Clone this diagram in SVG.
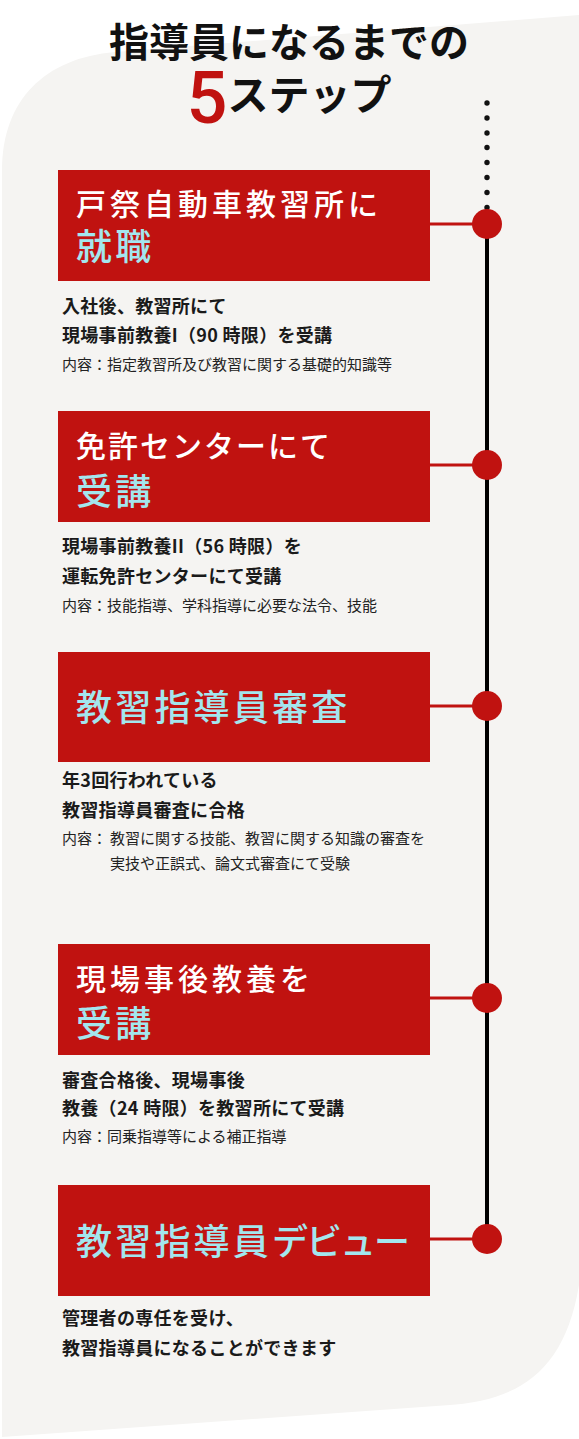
<svg xmlns="http://www.w3.org/2000/svg" width="579" height="1439" viewBox="0 0 579 1439">
<style>
.jp{font-family:"Noto Sans CJK JP","Noto Sans",sans-serif}
.box{fill:#c01210}
.h1{fill:#ffffff;font-size:30px;font-weight:500;letter-spacing:4px}
.h2{fill:#a3e6ee;font-size:36px;font-weight:500;letter-spacing:3.2px}
.d{fill:#1a1a1a;font-size:18px;font-weight:700;letter-spacing:0.3px}
.s{fill:#222222;font-size:15px;font-weight:400}
.dot{fill:#111111}
.pin{fill:#c01210}
.link{stroke:#c01210;stroke-width:3;fill:none}
</style>
<rect width="579" height="1439" fill="#ffffff"/>
<path id="background" d="M2,170 C2,100 45,58 115,52 L579,15 L579,1285 C565,1370 520,1400 450,1405 L2,1437 Z" fill="#f5f4f2"/>
<g id="title" class="jp" text-anchor="middle">
<text x="289" y="57" font-size="40" font-weight="700" fill="#111111">指導員になるまでの</text>
<text x="289" y="123"><tspan font-family="Roboto,'Liberation Sans',sans-serif" font-size="72" font-weight="500" fill="#c01210">5</tspan><tspan font-size="41" font-weight="700" fill="#111111" dy="-13">ステップ</tspan></text>
</g>
<g id="connectors">
<circle class="dot" cx="487" cy="103" r="2.7"/>
<circle class="dot" cx="487" cy="118" r="2.7"/>
<circle class="dot" cx="487" cy="133" r="2.7"/>
<circle class="dot" cx="487" cy="147.5" r="2.7"/>
<circle class="dot" cx="487" cy="162.5" r="2.7"/>
<circle class="dot" cx="487" cy="177.5" r="2.7"/>
<circle class="dot" cx="487" cy="192.5" r="2.7"/>
<circle class="dot" cx="487" cy="207.5" r="2.7"/>
<line x1="487" y1="224" x2="487" y2="1239" stroke="#000000" stroke-width="4"/>
<line class="link" x1="430" y1="224" x2="487" y2="224"/>
<line class="link" x1="430" y1="465" x2="487" y2="465"/>
<line class="link" x1="430" y1="706" x2="487" y2="706"/>
<line class="link" x1="430" y1="998" x2="487" y2="998"/>
<line class="link" x1="430" y1="1239" x2="487" y2="1239"/>
</g>
<g id="step1" class="jp">
<rect class="box" x="58" y="170" width="372" height="111"/>
<circle class="pin" cx="487" cy="224" r="15"/>
<text class="h1" x="76" y="215">戸祭自動車教習所に</text>
<text class="h2" x="76" y="259.5">就職</text>
<text class="d" x="62" y="312.7">入社後、教習所にて</text>
<text class="d" x="62" y="342">現場事前教養I（90 時限）を受講</text>
<text class="s" x="62" y="370">内容：指定教習所及び教習に関する基礎的知識等</text>
</g>
<g id="step2" class="jp">
<rect class="box" x="58" y="411" width="372" height="111"/>
<circle class="pin" cx="487" cy="465" r="15"/>
<text class="h1" x="76" y="457" style="letter-spacing:2px">免許センターにて</text>
<text class="h2" x="76" y="504.5">受講</text>
<text class="d" x="62" y="552.7">現場事前教養II（56 時限）を</text>
<text class="d" x="62" y="582.7">運転免許センターにて受講</text>
<text class="s" x="62" y="611">内容：技能指導、学科指導に必要な法令、技能</text>
</g>
<g id="step3" class="jp">
<rect class="box" x="58" y="652" width="372" height="110"/>
<circle class="pin" cx="487" cy="706" r="15"/>
<text class="h2" x="76" y="720.5">教習指導員審査</text>
<text class="d" x="62" y="786.7">年3回行われている</text>
<text class="d" x="62" y="816.7">教習指導員審査に合格</text>
<text class="s" x="62" y="844">内容：</text>
<text class="s" x="110" y="844">教習に関する技能、教習に関する知識の審査を</text>
<text class="s" x="110" y="869">実技や正誤式、論文式審査にて受験</text>
</g>
<g id="step4" class="jp">
<rect class="box" x="58" y="944" width="372" height="111"/>
<circle class="pin" cx="487" cy="998" r="15"/>
<text class="h1" x="76" y="990">現場事後教養を</text>
<text class="h2" x="76" y="1036.5">受講</text>
<text class="d" x="62" y="1086.7">審査合格後、現場事後</text>
<text class="d" x="62" y="1115.4">教養（24 時限）を教習所にて受講</text>
<text class="s" x="62" y="1142">内容：同乗指導等による補正指導</text>
</g>
<g id="step5" class="jp">
<rect class="box" x="58" y="1185" width="372" height="111"/>
<circle class="pin" cx="487" cy="1239" r="15"/>
<text class="h2" x="76" y="1254.5">教習指導員<tspan style="letter-spacing:-2px">デビュー</tspan></text>
<text class="d" x="62" y="1325.4">管理者の専任を受け、</text>
<text class="d" x="62" y="1355.4">教習指導員になることができます</text>
</g>
</svg>
